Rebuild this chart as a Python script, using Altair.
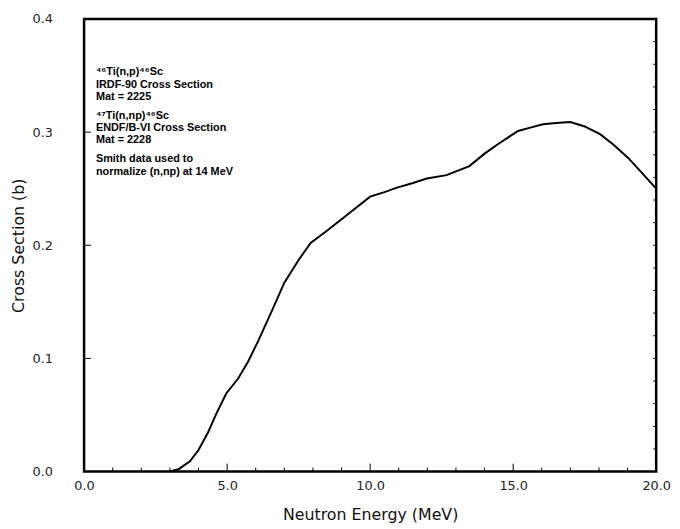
import altair as alt
import pandas as pd

# Curve
energy = [3.0, 3.3, 3.7, 4.0, 4.34, 4.62, 4.97, 5.38, 5.73, 6.08, 6.6, 7.0, 7.5,
          7.92, 8.5, 9.1, 10.0, 10.5, 10.94, 11.5, 11.98, 12.67, 13.47, 14.0, 14.5,
          15.17, 15.6, 16.04, 16.5, 17.0, 17.5, 18.05, 18.5, 19.03, 19.5, 20.0]
xsec = [0.0, 0.002, 0.009, 0.019, 0.035, 0.051, 0.069, 0.082, 0.097, 0.115, 0.144,
        0.167, 0.187, 0.202, 0.213, 0.225, 0.243, 0.247, 0.251, 0.255, 0.259, 0.262,
        0.27, 0.281, 0.29, 0.301, 0.304, 0.307, 0.308, 0.309, 0.305, 0.298, 0.289,
        0.277, 0.264, 0.25]

x_ticks_minor = [1, 2, 3, 4, 6, 7, 8, 9, 11, 12, 13, 14, 16, 17, 18, 19]
x_ticks_major = [5, 10, 15]
y_ticks_major = [0.1, 0.2, 0.3]
y_ticks_right = [0.02, 0.04, 0.06, 0.08, 0.1, 0.12, 0.14, 0.16, 0.18, 0.2, 0.22,
                 0.24, 0.26, 0.28, 0.3, 0.32, 0.34, 0.36, 0.38]

note_1 = ["\u2074\u2076Ti(n,p)\u2074\u2076Sc", "IRDF-90 Cross Section", "Mat = 2225"]
note_2 = ["\u2074\u2077Ti(n,np)\u2074\u2076Sc", "ENDF/B-VI Cross Section", "Mat = 2228"]
note_3 = ["Smith data used to", "normalize (n,np) at 14 MeV"]

W, H = 579, 458

df = pd.DataFrame({"E": energy, "S": xsec})

xscale = alt.Scale(domain=[0, 20], nice=False, zero=False)
yscale = alt.Scale(domain=[0, 0.4], nice=False)

line = alt.Chart(df).mark_line(color="black", strokeWidth=2).encode(
    x=alt.X("E:Q", scale=xscale,
            axis=alt.Axis(title="Neutron Energy (MeV)", values=[0, 5, 10, 15, 20],
                          format=".1f", ticks=False, domain=False, grid=False,
                          labelPadding=8, labelFontSize=13, labelFont="DejaVu Sans",
                          labelColor="#222", labelFlush=False,
                          titleFont="DejaVu Sans", titleFontSize=16, titleFontWeight="normal",
                          titleColor="#111", titleBaseline="alphabetic", titleY=49)),
    y=alt.Y("S:Q", scale=yscale,
            axis=alt.Axis(title="Cross Section (b)", values=[0, 0.1, 0.2, 0.3, 0.4],
                          format=".1f", ticks=False, domain=False, grid=False,
                          labelPadding=32, labelFontSize=13, labelFont="DejaVu Sans",
                          labelColor="#222", labelFlush=False,
                          titleFont="DejaVu Sans", titleFontSize=16, titleFontWeight="normal",
                          titleColor="#111", titleBaseline="alphabetic",
                          titleX=-61, titleY=H / 2, titleAngle=-90)),
)

xmin = alt.Chart(pd.DataFrame({"E": x_ticks_minor})).mark_rule(color="black", strokeWidth=1).encode(
    x=alt.X("E:Q", scale=xscale), y=alt.value(H), y2=alt.value(H - 4))
xmaj = alt.Chart(pd.DataFrame({"E": x_ticks_major})).mark_rule(color="black", strokeWidth=1).encode(
    x=alt.X("E:Q", scale=xscale), y=alt.value(H), y2=alt.value(H - 8))
ymaj = alt.Chart(pd.DataFrame({"S": y_ticks_major})).mark_rule(color="black", strokeWidth=1).encode(
    y=alt.Y("S:Q", scale=yscale), x=alt.value(0), x2=alt.value(7))
yright = alt.Chart(pd.DataFrame({"S": y_ticks_right})).mark_rule(color="black", strokeWidth=1).encode(
    y=alt.Y("S:Q", scale=yscale), x=alt.value(W), x2=alt.value(W - 3))

def note(lines, ypix):
    return alt.Chart(pd.DataFrame({"t": ["\n".join(lines)]})).mark_text(
        align="left", baseline="middle", font="Liberation Sans", fontWeight="bold",
        fontSize=11, lineHeight=12.4, color="black", lineBreak="\n").encode(
        text="t:N", x=alt.value(12), y=alt.value(ypix))

n1 = note(note_1, 54)
n2 = note(note_2, 98)
n3 = note(note_3, 142)

chart = alt.layer(xmin, xmaj, ymaj, yright, line, n1, n2, n3).properties(
    width=W, height=H,
    autosize=alt.AutoSizeParams(type="none"),
    padding={"left": 77, "top": 8, "right": 16, "bottom": 55},
).configure(background="white").configure_view(stroke="black", strokeWidth=2.5)

chart.save("out.html", embed_options={"renderer": "svg", "actions": False})
